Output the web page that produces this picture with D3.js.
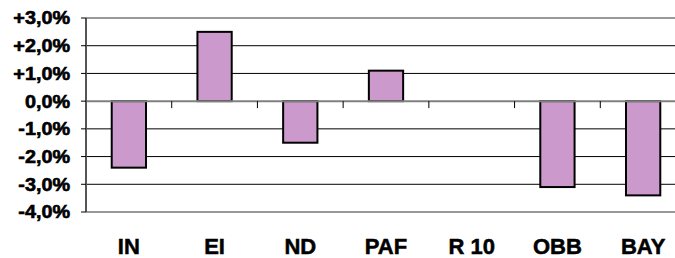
<!DOCTYPE html>
<html><head><meta charset="utf-8">
<script src="https://cdn.jsdelivr.net/npm/d3@7"></script>
<style>body{margin:0;background:#fff;}svg{display:block;}</style>
</head><body>
<svg id="c" width="675" height="258"></svg>
<script>
const categories = ["IN","EI","ND","PAF","R 10","OBB","BAY"];
const values = [-2.4, 2.5, -1.5, 1.1, 0, -3.1, -3.4];
const tickValues = [3,2,1,0,-1,-2,-3,-4];
const tickLabels = ["+3,0%","+2,0%","+1,0%","0,0%","-1,0%","-2,0%","-3,0%","-4,0%"];

(function(){
const svg = d3.select("#c");
const pLeft = 86, pRight = 686, pTop = 18, pBottom = 212;
const y = d3.scaleLinear().domain([-4,3]).range([pBottom, pTop]);
const x = d3.scaleBand().domain(categories).range([pLeft, pRight]).paddingInner(0.6).paddingOuter(0.3);
const step = x.step();

svg.append("g").selectAll("line").data(tickValues.filter(v => v !== 3 && v !== -4 && v !== 0))
  .join("line").attr("x1", pLeft).attr("x2", pRight)
  .attr("y1", d => y(d)).attr("y2", d => y(d))
  .attr("stroke", "#000").attr("stroke-width", 1);
[3, -4].forEach(v => svg.append("line").attr("x1", pLeft).attr("x2", pRight)
  .attr("y1", y(v)).attr("y2", y(v)).attr("stroke", "#999").attr("stroke-width", 2));

svg.append("g").selectAll("rect").data(values.map((v,i)=>({c:categories[i], v})).filter(d => d.v !== 0))
  .join("rect")
  .attr("x", d => x(d.c)).attr("width", x.bandwidth())
  .attr("y", d => y(Math.max(0, d.v))).attr("height", d => Math.abs(y(d.v) - y(0)))
  .attr("fill", "#CC99CC").attr("stroke", "#000").attr("stroke-width", 2);

svg.append("line").attr("x1", pLeft).attr("x2", pRight).attr("y1", y(0)).attr("y2", y(0))
  .attr("stroke", "#808080").attr("stroke-width", 2);
svg.append("g").selectAll("line").data(categories.slice(1))
  .join("line").attr("x1", d => x(d) - step*0.3).attr("x2", d => x(d) - step*0.3)
  .attr("y1", y(0)).attr("y2", y(0) + 7).attr("stroke", "#000").attr("stroke-width", 1);

svg.append("line").attr("x1", pLeft).attr("x2", pLeft).attr("y1", pTop).attr("y2", pBottom)
  .attr("stroke", "#555").attr("stroke-width", 2);
svg.append("g").selectAll("line").data(tickValues)
  .join("line").attr("x1", pLeft - 5).attr("x2", pLeft).attr("y1", d => y(d)).attr("y2", d => y(d))
  .attr("stroke", "#000").attr("stroke-width", 1);

svg.append("g").selectAll("g").data(tickValues)
  .join("g").attr("transform", d => `translate(70,${y(d)}) scale(1.1,1)`)
  .append("text").text((d,i) => tickLabels[i])
  .attr("text-anchor", "end").attr("dy", "0.36em")
  .attr("font-family", "'Liberation Sans', Arial, sans-serif").attr("font-weight", 700)
  .attr("font-size", 18).attr("fill", "#000")
  .attr("stroke", "#000").attr("stroke-width", 0.6);

svg.append("g").selectAll("text").data(categories)
  .join("text").attr("x", d => x(d) + x.bandwidth()/2).attr("y", 254)
  .attr("text-anchor", "middle").text(d => d)
  .attr("font-family", "'Liberation Sans', Arial, sans-serif").attr("font-weight", 700)
  .attr("font-size", 22).attr("fill", "#000")
  .attr("stroke", "#000").attr("stroke-width", 0.5);
})();
</script>
</body></html>
